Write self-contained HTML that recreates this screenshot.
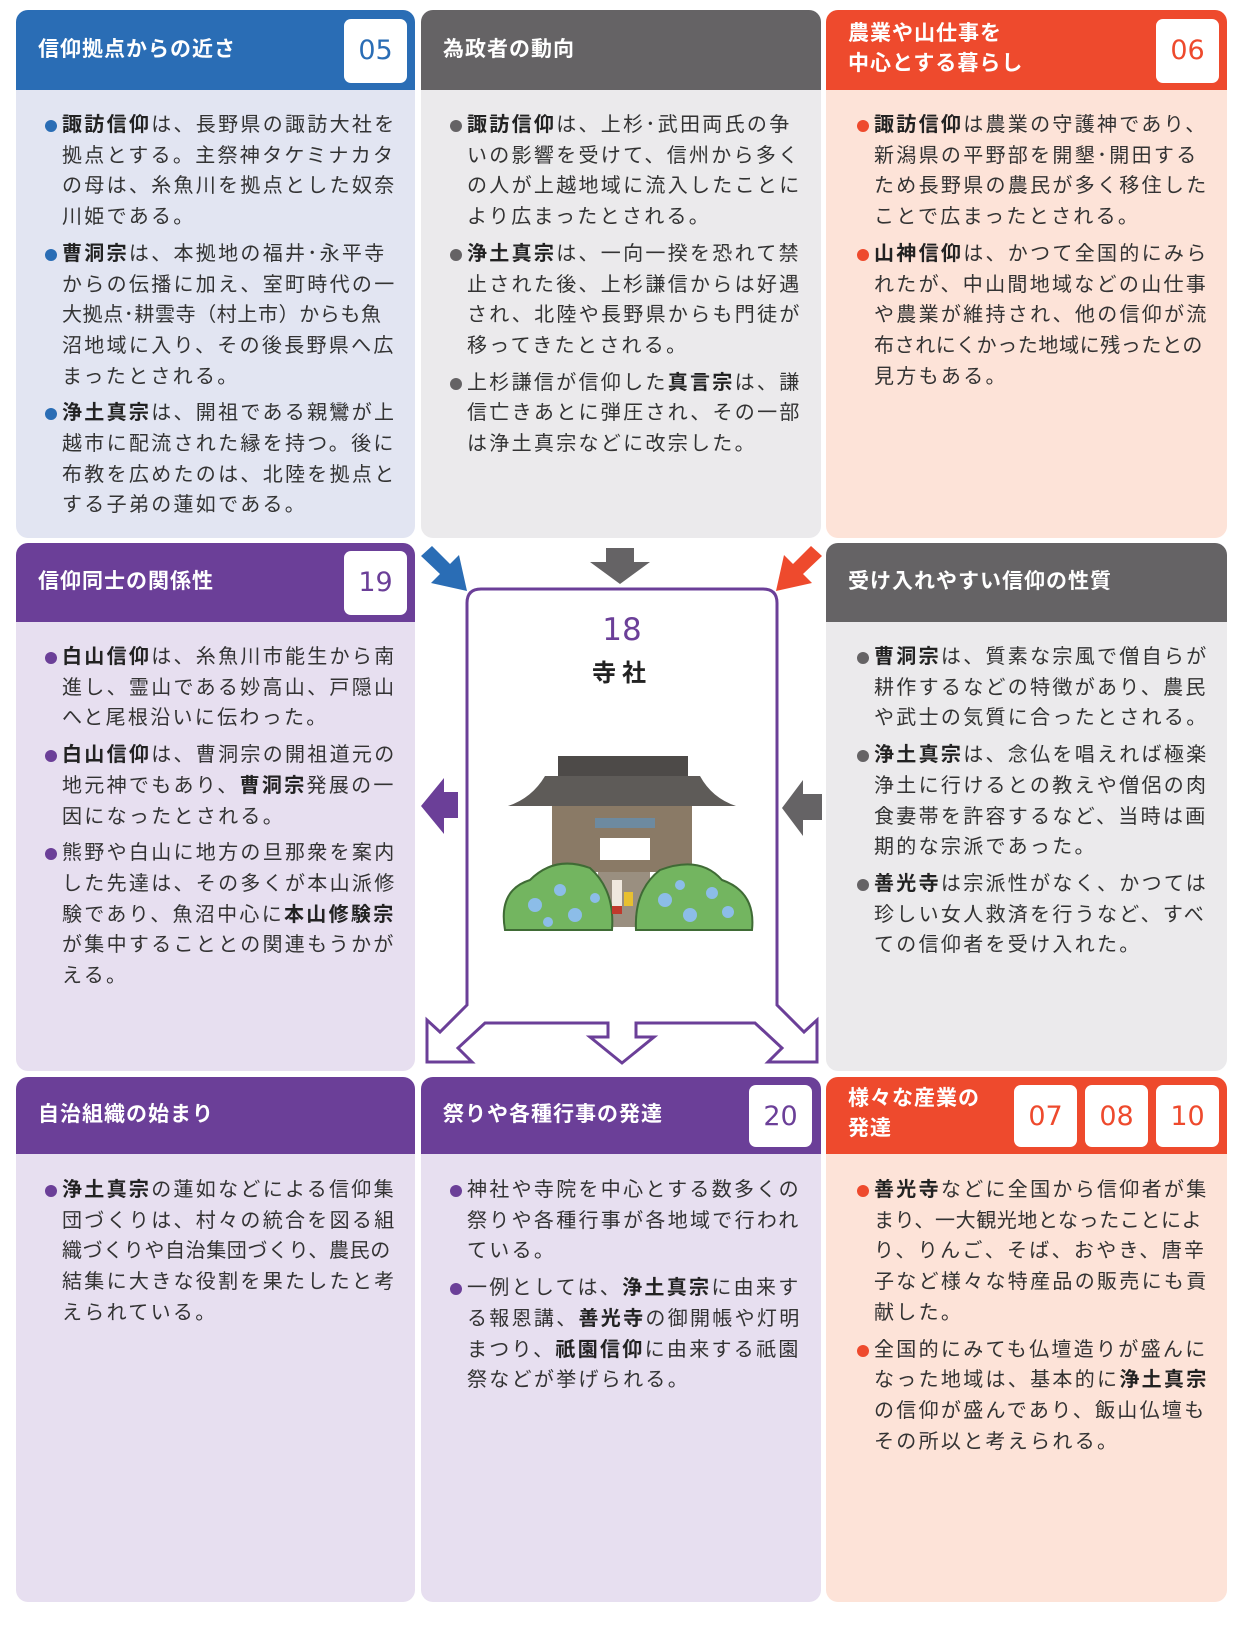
<!DOCTYPE html>
<html><head><meta charset="utf-8">
<style>
*{margin:0;padding:0;box-sizing:border-box}
body{width:1240px;height:1630px;background:#fff;position:relative;overflow:hidden;font-family:"Liberation Sans","Noto Sans CJK JP",sans-serif}
.p{position:absolute;border-radius:12px;overflow:hidden}
.h{position:absolute;left:0;right:0;top:0;color:#fff;font-weight:bold;font-size:21px;letter-spacing:1px}
.h span{position:absolute;left:22px;line-height:30px}
.n{position:absolute;background:#fff;border-radius:7px;font-size:27px;text-align:center;font-family:"DejaVu Sans","Liberation Sans",sans-serif;line-height:63px;width:63px;height:64px}
.t{position:absolute;font-size:20px;letter-spacing:2.3px;line-height:30.7px;color:#333;white-space:nowrap}
.t p{padding-left:17px;position:relative}
.t p+p{margin-top:6px}
.t p:before{content:"";position:absolute;left:0;top:10px;width:12px;height:12px;border-radius:50%;background:var(--c)}
.s{letter-spacing:0.6px}
b{color:#222}
</style></head><body>

<div class="p" style="left:16px;top:10px;width:399px;height:528px;background:#e2e5f2">
 <div class="h" style="height:80px;background:#2a6db5"><span style="top:25px">信仰拠点からの近さ</span></div>
 <div class="n" style="left:328px;top:9px;color:#2a6db5">05</div>
</div>
<div class="p" style="left:421px;top:10px;width:400px;height:528px;background:#ebeaec">
 <div class="h" style="height:80px;background:#656365"><span style="top:25px">為政者の動向</span></div>
</div>
<div class="p" style="left:826px;top:10px;width:401px;height:528px;background:#fde3d8">
 <div class="h" style="height:80px;background:#ee4a2d"><span style="top:9px">農業や山仕事を<br>中心とする暮らし</span></div>
 <div class="n" style="left:330px;top:9px;color:#ee4a2d">06</div>
</div>

<div class="t" style="left:45px;top:110px;--c:#2a6db5">
<p><b>諏訪信仰</b>は、長野県の諏訪大社を<br>拠点とする。主祭神タケミナカタ<br>の母は、糸魚川を拠点とした奴奈<br>川姫である。</p>
<p><b>曹洞宗</b>は、本拠地の福井･永平寺<br>からの伝播に加え、室町時代の一<br><span class="s">大拠点･耕雲寺（村上市）からも魚</span><br>沼地域に入り、その後長野県へ広<br>まったとされる。</p>
<p><b>浄土真宗</b>は、開祖である親鸞が上<br>越市に配流された縁を持つ。後に<br>布教を広めたのは、北陸を拠点と<br>する子弟の蓮如である。</p>
</div>
<div class="t" style="left:450px;top:110px;--c:#656365">
<p><b>諏訪信仰</b>は、上杉･武田両氏の争<br>いの影響を受けて、信州から多く<br>の人が上越地域に流入したことに<br>より広まったとされる。</p>
<p><b>浄土真宗</b>は、一向一揆を恐れて禁<br>止された後、上杉謙信からは好遇<br>され、北陸や長野県からも門徒が<br>移ってきたとされる。</p>
<p>上杉謙信が信仰した<b>真言宗</b>は、謙<br>信亡きあとに弾圧され、その一部<br>は浄土真宗などに改宗した。</p>
</div>
<div class="t" style="left:857px;top:110px;--c:#ee4a2d">
<p><b>諏訪信仰</b>は農業の守護神であり、<br>新潟県の平野部を開墾･開田する<br>ため長野県の農民が多く移住した<br>ことで広まったとされる。</p>
<p><b>山神信仰</b>は、かつて全国的にみら<br>れたが、中山間地域などの山仕事<br>や農業が維持され、他の信仰が流<br><span class="s">布されにくかった地域に残ったとの</span><br>見方もある。</p>
</div>

<div class="p" style="left:16px;top:543px;width:399px;height:528px;background:#e7dff0">
 <div class="h" style="height:79px;background:#6b3f98"><span style="top:24px">信仰同士の関係性</span></div>
 <div class="n" style="left:328px;top:8px;color:#6b3f98">19</div>
</div>
<div class="p" style="left:826px;top:543px;width:401px;height:528px;background:#ebeaec">
 <div class="h" style="height:79px;background:#656365"><span style="top:24px">受け入れやすい信仰の性質</span></div>
</div>
<div class="t" style="left:45px;top:642px;--c:#6b3f98">
<p><b>白山信仰</b>は、糸魚川市能生から南<br>進し、霊山である妙高山、戸隠山<br>へと尾根沿いに伝わった。</p>
<p><b>白山信仰</b>は、曹洞宗の開祖道元の<br>地元神でもあり、<b>曹洞宗</b>発展の一<br>因になったとされる。</p>
<p>熊野や白山に地方の旦那衆を案内<br>した先達は、その多くが本山派修<br>験であり、魚沼中心に<b>本山修験宗</b><br>が集中することとの関連もうかが<br>える。</p>
</div>
<div class="t" style="left:857px;top:642px;--c:#656365">
<p><b>曹洞宗</b>は、質素な宗風で僧自らが<br>耕作するなどの特徴があり、農民<br>や武士の気質に合ったとされる。</p>
<p><b>浄土真宗</b>は、念仏を唱えれば極楽<br>浄土に行けるとの教えや僧侶の肉<br>食妻帯を許容するなど、当時は画<br>期的な宗派であった。</p>
<p><b>善光寺</b>は宗派性がなく、かつては<br>珍しい女人救済を行うなど、すべ<br>ての信仰者を受け入れた。</p>
</div>

<div class="p" style="left:16px;top:1077px;width:399px;height:525px;background:#e7dff0">
 <div class="h" style="height:77px;background:#6b3f98"><span style="top:23px">自治組織の始まり</span></div>
</div>
<div class="p" style="left:421px;top:1077px;width:400px;height:525px;background:#e7dff0">
 <div class="h" style="height:77px;background:#6b3f98"><span style="top:23px">祭りや各種行事の発達</span></div>
 <div class="n" style="left:328px;top:8px;color:#6b3f98;height:62px">20</div>
</div>
<div class="p" style="left:826px;top:1077px;width:401px;height:525px;background:#fde3d8">
 <div class="h" style="height:77px;background:#ee4a2d"><span style="top:7px">様々な産業の<br>発達</span></div>
 <div class="n" style="left:188px;top:8px;color:#ee4a2d;height:62px">07</div>
 <div class="n" style="left:259px;top:8px;color:#ee4a2d;height:62px">08</div>
 <div class="n" style="left:330px;top:8px;color:#ee4a2d;height:62px">10</div>
</div>
<div class="t" style="left:45px;top:1175px;--c:#6b3f98">
<p><b>浄土真宗</b>の蓮如などによる信仰集<br>団づくりは、村々の統合を図る組<br><span class="s">織づくりや自治集団づくり、農民の</span><br>結集に大きな役割を果たしたと考<br>えられている。</p>
</div>
<div class="t" style="left:450px;top:1175px;--c:#6b3f98">
<p>神社や寺院を中心とする数多くの<br>祭りや各種行事が各地域で行われ<br>ている。</p>
<p>一例としては、<b>浄土真宗</b>に由来す<br>る報恩講、<b>善光寺</b>の御開帳や灯明<br>まつり、<b>祇園信仰</b>に由来する祇園<br>祭などが挙げられる。</p>
</div>
<div class="t" style="left:857px;top:1175px;--c:#ee4a2d">
<p><b>善光寺</b>などに全国から信仰者が集<br><span class="s">まり、一大観光地となったことによ</span><br>り、りんご、そば、おやき、唐辛<br>子など様々な特産品の販売にも貢<br>献した。</p>
<p>全国的にみても仏壇造りが盛んに<br>なった地域は、基本的に<b>浄土真宗</b><br>の信仰が盛んであり、飯山仏壇も<br>その所以と考えられる。</p>
</div>

<svg style="position:absolute;left:0;top:0" width="1240" height="1630">
 <path d="M467,1005 L440,1032 L427,1020 L427,1062 L472,1062 L458,1048 L485,1023 L608,1023 L608,1037 L590,1037 L622,1063 L654,1037 L636,1037 L636,1023 L755,1023 L782,1048 L768,1062 L817,1062 L817,1020 L804,1032 L777,1005 L777,603 Q777,589 763,589 L481,589 Q467,589 467,603 Z" fill="#fff" stroke="#6b3f98" stroke-width="3" stroke-linejoin="miter"/>
 <polygon points="421,556 432,546 450,564 459,555 467,591 431,583 440,574" fill="#2a6db5"/>
 <polygon points="606,548 634,548 634,562 650,562 620,584 590,562 606,562" fill="#656365"/>
 <polygon points="822,556 811,546 793,564 784,555 776,591 812,583 803,574" fill="#ee4a2d"/>
 <polygon points="458,792 458,818 444,818 444,834 421,806 444,778 444,792" fill="#6b3f98"/>
 <polygon points="822,794 822,820 803,820 803,836 782,808 803,780 803,794" fill="#656365"/>
 <text x="622" y="640" text-anchor="middle" font-family="DejaVu Sans,Liberation Sans,sans-serif" font-size="31" fill="#6b3f98">18</text>
 <text x="622" y="681" text-anchor="middle" font-family="Liberation Sans,Noto Sans CJK JP,sans-serif" font-size="24" font-weight="bold" fill="#222" letter-spacing="6">寺社</text>
 <g>
  <rect x="558" y="756" width="130" height="22" fill="#4d4a48"/>
  <path d="M545,776 L700,776 Q712,798 736,806 L508,806 Q532,798 545,776 Z" fill="#5e5b58"/>
  <rect x="552" y="806" width="140" height="66" fill="#8a7a66"/>
  <rect x="595" y="818" width="60" height="10" fill="#6d8aa0"/>
  <rect x="600" y="838" width="50" height="22" fill="#fff"/>
  <rect x="598" y="872" width="52" height="55" fill="#9a8f80"/>
  <path d="M505,930 Q498,890 530,880 Q555,855 590,868 Q615,890 612,930 Z" fill="#73b560" stroke="#3f6b35" stroke-width="2"/>
  <path d="M636,930 Q634,890 660,870 Q700,855 722,880 Q756,892 752,930 Z" fill="#73b560" stroke="#3f6b35" stroke-width="2"/>
  <g fill="#8cbde8"><circle cx="535" cy="905" r="7"/><circle cx="560" cy="890" r="6"/><circle cx="575" cy="915" r="7"/><circle cx="595" cy="898" r="5"/><circle cx="548" cy="922" r="5"/><circle cx="665" cy="900" r="7"/><circle cx="690" cy="915" r="7"/><circle cx="712" cy="893" r="6"/><circle cx="728" cy="912" r="6"/><circle cx="680" cy="885" r="5"/></g>
  <rect x="612" y="880" width="10" height="26" fill="#f0e8de"/><rect x="612" y="906" width="10" height="8" fill="#c0392b"/>
  <rect x="624" y="892" width="9" height="14" fill="#e8c030"/>
 </g>
</svg>
</body></html>
